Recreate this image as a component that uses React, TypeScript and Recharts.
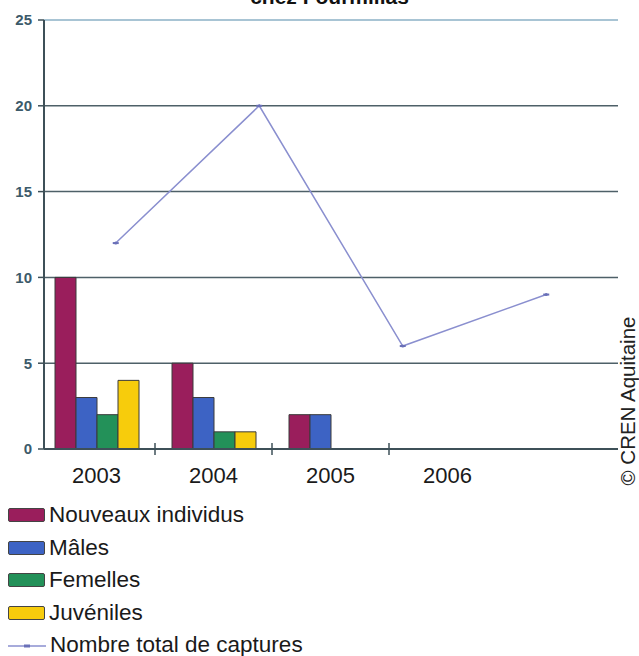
import React from 'react';
import {
  ComposedChart, Bar, Line, XAxis, YAxis, CartesianGrid, ReferenceLine
} from 'recharts';

const years = ['2003', '2004', '2005', '2006'];
const nouveaux = [10, 5, 2, 0];
const males = [3, 3, 2, 0];
const femelles = [2, 1, 0, 0];
const juveniles = [4, 1, 0, 0];
const totalCaptures = [12, 20, 6, 9];
const yTicks = [0, 5, 10, 15, 20, 25];

const data = years.map((year, i) => ({
  year,
  nouveaux: nouveaux[i],
  males: males[i],
  femelles: femelles[i],
  juveniles: juveniles[i],
  total: totalCaptures[i],
}));

const series = [
  { key: 'nouveaux', name: 'Nouveaux individus', color: '#9a1e5c' },
  { key: 'males', name: 'Mâles', color: '#3d63c4' },
  { key: 'femelles', name: 'Femelles', color: '#239159' },
  { key: 'juveniles', name: 'Juvéniles', color: '#f7cc0c' },
];

const AXIS = '#3e5058';
const LINE = '#8a8fcf';
const TEXT_FONT = '"Liberation Sans", Arial, sans-serif';

// year label + small separator mark at the right edge of each band (except the last)
const YearTick = ({ x, y, payload, index, visibleTicksCount }: any) => {
  const half = payload && payload.offset > 10 ? payload.offset : 0;
  const last = visibleTicksCount != null ? index >= visibleTicksCount - 1 : index >= years.length - 1;
  return (
    <g>
      {half > 0 && !last && (
        <line x1={x + half} x2={x + half} y1={y - 14} y2={y - 2}
          stroke={AXIS} strokeWidth={1.5} />
      )}
      <text x={x} y={y + 26} textAnchor="middle" fontSize={22}
        fontFamily='"Liberation Sans Narrow", "Liberation Sans", sans-serif' fill="#1a1a1a">
        {payload.value}
      </text>
    </g>
  );
};

const Marker = ({ cx, cy }: any) => (
  <g>
    <line x1={cx - 3} x2={cx + 3} y1={cy} y2={cy} stroke="#6a70b8" strokeWidth={2} />
    <circle cx={cx} cy={cy} r={1.5} fill="#6a70b8" />
  </g>
);

const LegendRow = ({ color, label, line }: { color?: string; label: string; line?: boolean }) => (
  <div style={{ display: 'flex', alignItems: 'center', height: 32.5 }}>
    {line ? (
      <svg width={38} height={14} style={{ marginRight: 4 }}>
        <line x1={0} x2={38} y1={8} y2={8} stroke={LINE} strokeWidth={1.5} />
        <line x1={16} x2={22} y1={8} y2={8} stroke="#6a70b8" strokeWidth={3} />
      </svg>
    ) : (
      <div style={{
        width: 35, height: 12, background: color, border: '1.5px solid #444',
        borderRadius: 2, marginRight: 4,
      }} />
    )}
    <span style={{ fontSize: 22.5, color: '#1a1a1a', fontFamily: TEXT_FONT }}>{label}</span>
  </div>
);

export default function App() {
  return (
    <div style={{
      position: 'absolute', top: 0, left: 0, width: 639, height: 656,
      background: '#fff', overflow: 'hidden', fontFamily: TEXT_FONT,
    }}>
      <div style={{
        position: 'absolute', top: -15, left: 0, width: 639, textAlign: 'center',
        fontWeight: 'bold', fontSize: 21, color: '#111', fontFamily: TEXT_FONT,
        paddingLeft: 20, boxSizing: 'border-box',
      }}>
        chez Fourmillas
      </div>

      <ComposedChart width={639} height={500} data={data}
        margin={{ top: 20, right: 21, bottom: 21, left: 0 }}
        barGap={0}>
        <CartesianGrid xAxisId="bars" yAxisId="y" vertical={false}
          stroke="#4e6068" strokeWidth={1.5} />
        <ReferenceLine xAxisId="bars" yAxisId="y" y={25} stroke="#a8c4d4" strokeWidth={2} />
        <ReferenceLine xAxisId="bars" yAxisId="y" y={0} stroke={AXIS} strokeWidth={2} />
        <YAxis yAxisId="y" width={44} domain={[0, 25]} ticks={yTicks}
          axisLine={{ stroke: AXIS, strokeWidth: 2 }}
          tickLine={{ stroke: AXIS, strokeWidth: 1.5 }} tickSize={6} tickMargin={6}
          tick={{ fontSize: 15, fontWeight: 'bold', fill: '#3c5a6a', fontFamily: 'Arial, sans-serif' }} />
        <XAxis xAxisId="bars" dataKey="year" padding={{ left: -6, right: 112 }}
          height={30} axisLine={false} tickLine={false} tick={<YearTick />} />
        <XAxis xAxisId="line" dataKey="year" hide />
        {series.map((s) => (
          <Bar key={s.key} xAxisId="bars" yAxisId="y" dataKey={s.key} name={s.name}
            fill={s.color} stroke="#3a3a3a" strokeWidth={1} barSize={21}
            isAnimationActive={false} />
        ))}
        <Line xAxisId="line" yAxisId="y" dataKey="total" name="Nombre total de captures"
          stroke={LINE} strokeWidth={1.5} dot={<Marker />} activeDot={false}
          isAnimationActive={false} />
      </ComposedChart>

      <div style={{
        position: 'absolute', left: 628, top: 401, transform: 'translate(-50%, -50%) rotate(-90deg)',
        whiteSpace: 'nowrap', fontSize: 20.5, lineHeight: '22px', color: '#222', fontFamily: TEXT_FONT,
      }}>
        © CREN Aquitaine
      </div>

      <div style={{ position: 'absolute', left: 8, top: 499 }}>
        {series.map((s) => (
          <LegendRow key={s.key} color={s.color} label={s.name} />
        ))}
        <LegendRow line label="Nombre total de captures" />
      </div>
    </div>
  );
}
